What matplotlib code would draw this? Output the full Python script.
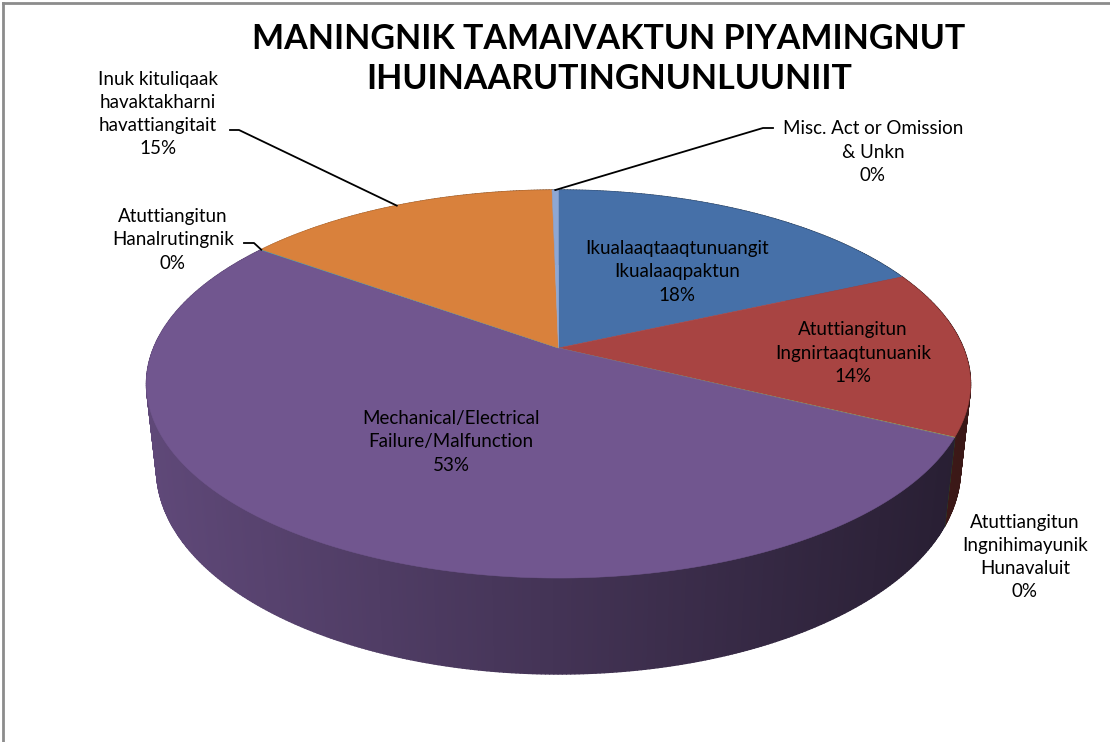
import numpy as np
import matplotlib
matplotlib.use("Agg")
import matplotlib.pyplot as plt
from matplotlib.collections import PolyCollection
from matplotlib.colors import to_rgb

# chart data
TITLE = "MANINGNIK TAMAIVAKTUN PIYAMINGNUT\nIHUINAARUTINGNUNLUUNIIT"
labels = [
    "Ikualaaqtaaqtunuangit\nIkualaaqpaktun",
    "Atuttiangitun\nIngnirtaaqtunuanik",
    "Atuttiangitun\nIngnihimayunik\nHunavaluit",
    "Mechanical/Electrical\nFailure/Malfunction",
    "Atuttiangitun\nHanalrutingnik",
    "Inuk kituliqaak\nhavaktakharni\nhavattiangitait",
    "Misc. Act or Omission\n& Unkn",
]
values = [18.3, 13.9, 0.04, 52.6, 0.04, 14.8, 0.3]
colors = ["#4670a8", "#a84442", "#8fa456", "#71568f", "#3fa0b8", "#d9813c", "#8ea7d3"]

# label placement in pixels (x, y) and the leader line start / knee
label_pos = [(677, 272), (853, 353), (1025, 557), (451, 442), (173, 240), (158, 114), (873, 152)]
leader_from = [None, None, None, None, (244, 243), (230, 130), (773, 128)]
leader_knee = [None, None, None, None, (254, 243), (239, 130), (763, 128)]

# perspective camera for the 3D pie (fitted to the picture)
HUB_X, HUB_Y = 558.5, 348
CAM_D = 4.755
COS_T, SIN_T = 0.883, 0.47
FOCAL_X, FOCAL_Y = 1925, 1895
THICK = 0.2445

FONT = ["Lato", "DejaVu Sans"]


def project(X, Y, Z):
    dist = CAM_D + Y * COS_T - Z * SIN_T
    u = FOCAL_X * X / dist
    v = FOCAL_Y * (Y * SIN_T + Z * COS_T) / dist
    return HUB_X + u, HUB_Y - v, dist


def rim(theta, z=0.0):
    # theta measured clockwise from 12 o'clock, like Excel
    return project(np.sin(theta), np.cos(theta), z)


def wall_shade(x):
    # side light comes from the left: darker towards the right
    return float(np.clip(0.84 - (x - 150) * 0.0006, 0.3, 0.9))


fig = plt.figure(figsize=(11.1, 7.42), dpi=100)
ax = fig.add_axes([0, 0, 1, 1])
ax.set_xlim(0, 1110)
ax.set_ylim(742, 0)
ax.axis("off")

total = sum(values)
bounds = np.concatenate([[0], np.cumsum(values)]) / total * 2 * np.pi

# side walls: small quads, painted far to near
quads, quad_cols, quad_depth = [], [], []
for i, col in enumerate(colors):
    a0, a1 = bounds[i], bounds[i + 1]
    n = max(2, int(np.ceil((a1 - a0) / (2 * np.pi) * 720)))
    th = np.linspace(a0, a1, n + 1)
    for t0, t1 in zip(th[:-1], th[1:]):
        x0, y0, d0 = rim(t0)
        x1, y1, d1 = rim(t1)
        x2, y2, _ = rim(t1, -THICK)
        x3, y3, _ = rim(t0, -THICK)
        quads.append([(x0, y0), (x1, y1), (x2, y2), (x3, y3)])
        k = wall_shade((x0 + x1) / 2)
        quad_cols.append(tuple(c * k for c in to_rgb(col)))
        quad_depth.append((d0 + d1) / 2)

order = np.argsort(quad_depth)[::-1]
ax.add_collection(PolyCollection([quads[j] for j in order],
                                 facecolors=[quad_cols[j] for j in order],
                                 edgecolors=[quad_cols[j] for j in order],
                                 linewidths=1.0))

# top face of every slice
for i, col in enumerate(colors):
    a0, a1 = bounds[i], bounds[i + 1]
    th = np.linspace(a0, a1, max(3, int((a1 - a0) * 120)))
    xs, ys, _ = rim(th)
    pts = [(HUB_X, HUB_Y)] + list(zip(xs, ys))
    ax.add_patch(plt.Polygon(pts, closed=True, facecolor=col, edgecolor=col, linewidth=0.4))

# data labels
for i, lab in enumerate(labels):
    pct = int(round(100 * values[i] / total))
    x, y = label_pos[i]
    ax.text(x, y, f"{lab}\n{pct}%", ha="center", va="center", fontsize=13.5,
            family=FONT, color="black", linespacing=1.45, zorder=5)
    if leader_from[i] is not None:
        mid = (bounds[i] + bounds[i + 1]) / 2
        ex, ey, _ = rim(mid)
        (sx, sy), (kx, ky) = leader_from[i], leader_knee[i]
        ax.plot([sx, kx, ex], [sy, ky, ey], color="black", lw=1.3, zorder=4)

ax.text(609, 59, TITLE, ha="center", va="center", fontsize=24.5, fontweight="bold",
        family=FONT, color="black", linespacing=1.3)

# chart area border (only top and left survive the crop)
ax.plot([3, 1110], [3, 3], color="#8c8c8c", lw=2)
ax.plot([3, 3], [3, 742], color="#8c8c8c", lw=2)

fig.savefig("out.png", dpi=100)
